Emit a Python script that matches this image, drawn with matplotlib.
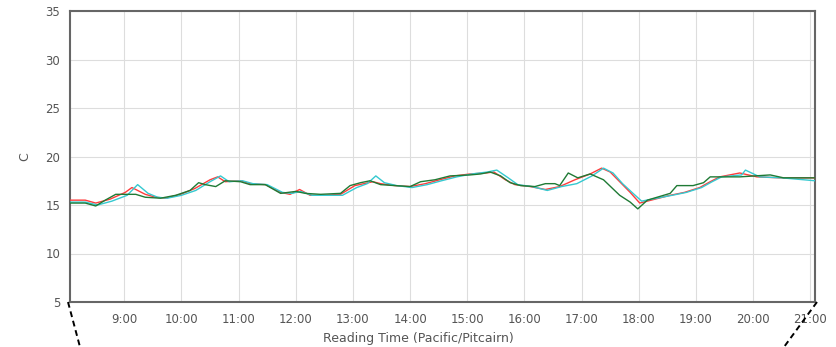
import matplotlib
matplotlib.use("Agg")
from matplotlib import pyplot as plt
from matplotlib.lines import Line2D

# readings per sensor: (time, temperature in C)
red_times = ["8:02", "8:19", "8:30", "8:45", "9:01", "9:08", "9:22", "9:33", "9:43",
             "9:59", "10:14", "10:30", "10:38", "10:46", "11:02", "11:12", "11:28",
             "11:44", "11:54", "12:04", "12:15", "12:31", "12:47", "13:02", "13:21",
             "13:29", "13:44", "14:00", "14:16", "14:31", "14:47", "15:03", "15:19",
             "15:28", "15:40", "15:50", "16:06", "16:22", "16:37", "16:53", "17:09",
             "17:21", "17:30", "17:40", "17:51", "18:01", "18:17", "18:33", "18:48",
             "19:04", "19:15", "19:25", "19:46", "20:04", "20:28", "21:05"]
red_temps = [15.5, 15.5, 15.2, 15.6, 16.3, 16.8, 16.1, 15.8, 15.7,
             16.1, 16.7, 17.6, 17.9, 17.4, 17.5, 17.2, 17.1,
             16.3, 16.1, 16.6, 16.0, 16.0, 16.1, 17.0, 17.4,
             17.2, 17.0, 16.9, 17.2, 17.6, 18.0, 18.2, 18.3,
             18.4, 17.6, 17.1, 16.9, 16.6, 16.9, 17.6, 18.2,
             18.8, 18.4, 17.4, 16.3, 15.2, 15.6, 16.0, 16.3,
             16.8, 17.4, 17.9, 18.3, 17.9, 17.8, 17.8]

cyan_times = ["8:02", "8:19", "8:32", "8:47", "9:03", "9:14", "9:25", "9:35", "9:45",
              "10:00", "10:15", "10:30", "10:41", "10:50", "11:04", "11:15", "11:30",
              "11:46", "11:56", "12:05", "12:17", "12:33", "12:49", "13:04", "13:15",
              "13:24", "13:33", "13:46", "14:02", "14:18", "14:33", "14:49", "15:05",
              "15:21", "15:31", "15:43", "15:53", "16:08", "16:24", "16:39", "16:55",
              "17:11", "17:23", "17:33", "17:43", "17:54", "18:03", "18:19", "18:35",
              "18:50", "19:06", "19:17", "19:27", "19:48", "19:52", "20:07", "20:30",
              "21:05"]
cyan_temps = [15.3, 15.3, 15.0, 15.4, 16.0, 17.1, 16.2, 15.8, 15.7,
              16.0, 16.5, 17.4, 18.0, 17.4, 17.5, 17.2, 17.1,
              16.3, 16.2, 16.4, 16.0, 16.0, 16.0, 16.8, 17.2,
              18.0, 17.3, 17.0, 16.8, 17.1, 17.5, 17.9, 18.2,
              18.4, 18.6, 17.8, 17.1, 16.9, 16.5, 16.9, 17.2,
              18.0, 18.8, 18.3, 17.2, 16.2, 15.4, 15.7, 16.0,
              16.3, 16.8, 17.4, 17.9, 18.1, 18.6, 17.9, 17.8,
              17.5]

green_times = ["8:02", "8:19", "8:30", "8:40", "8:51", "9:12", "9:22", "9:38", "9:54",
               "10:09", "10:18", "10:25", "10:36", "10:46", "11:02", "11:12", "11:28",
               "11:44", "12:00", "12:10", "12:26", "12:47", "12:57", "13:08", "13:18",
               "13:29", "13:44", "14:00", "14:11", "14:26", "14:42", "15:03", "15:14",
               "15:24", "15:35", "15:45", "15:56", "16:11", "16:22", "16:32", "16:37",
               "16:46", "16:56", "17:09", "17:23", "17:40", "17:51", "17:59", "18:09",
               "18:33", "18:40", "18:57", "19:08", "19:15", "19:46", "20:18", "20:32",
               "21:05"]
green_temps = [15.2, 15.2, 14.9, 15.5, 16.1, 16.1, 15.8, 15.7, 16.0,
               16.5, 17.3, 17.1, 16.9, 17.5, 17.4, 17.1, 17.1,
               16.2, 16.4, 16.2, 16.1, 16.2, 17.0, 17.3, 17.5,
               17.1, 17.0, 16.9, 17.4, 17.6, 18.0, 18.1, 18.2,
               18.4, 18.0, 17.3, 17.0, 16.9, 17.2, 17.2, 17.0,
               18.3, 17.8, 18.2, 17.6, 16.0, 15.3, 14.6, 15.5,
               16.2, 17.0, 17.0, 17.3, 17.9, 17.9, 18.1, 17.8,
               17.8]

hour_ticks = list(range(9, 22))
hour_labels = [f"{h}:00" for h in hour_ticks]
y_ticks = [5, 10, 15, 20, 25, 30, 35]


def to_hours(stamps):
    out = []
    for s in stamps:
        h, m = s.split(":")
        out.append(int(h) + int(m) / 60)
    return out


def main():
    fig = plt.figure(figsize=(8.36, 3.47), dpi=100)
    ax = fig.add_axes([70 / 836, 45 / 347, 745 / 836, 291 / 347])

    ax.plot(to_hours(red_times), red_temps, color="#ff3b3b", lw=1.0, zorder=3)
    ax.plot(to_hours(cyan_times), cyan_temps, color="#35c9d0", lw=1.0, zorder=4)
    ax.plot(to_hours(green_times), green_temps, color="#1f7a35", lw=1.0, zorder=5)

    ax.set_xlim(8 + 3 / 60, 21 + 5 / 60)
    ax.set_ylim(5, 35)
    ax.set_xticks(hour_ticks)
    ax.set_xticklabels(hour_labels)
    ax.set_yticks(y_ticks)
    ax.grid(True, color="#dddddd", lw=0.8)
    ax.set_axisbelow(True)
    ax.tick_params(length=0, colors="#555555", labelsize=8.5)
    ax.tick_params(axis="x", pad=8)
    ax.tick_params(axis="y", pad=7)
    for sp in ax.spines.values():
        sp.set_color("#666666")
        sp.set_linewidth(1.5)

    # axis title sits centred on the whole figure, not the plot box
    ax.set_xlabel("Reading Time (Pacific/Pitcairn)", color="#555555", fontsize=9,
                  labelpad=4, x=0.467)
    ax.set_ylabel("C", color="#555555", fontsize=9, labelpad=10)

    # dashed leaders under the bottom corners
    fig.add_artist(Line2D([68 / 836, 80 / 836], [45 / 347, 0], transform=fig.transFigure,
                          color="black", lw=1.4, ls=(0, (3, 2))))
    fig.add_artist(Line2D([817 / 836, 784 / 836], [45 / 347, 0], transform=fig.transFigure,
                          color="black", lw=1.4, ls=(0, (3, 2))))

    fig.savefig("out.png", dpi=100)


if __name__ == "__main__":
    main()
